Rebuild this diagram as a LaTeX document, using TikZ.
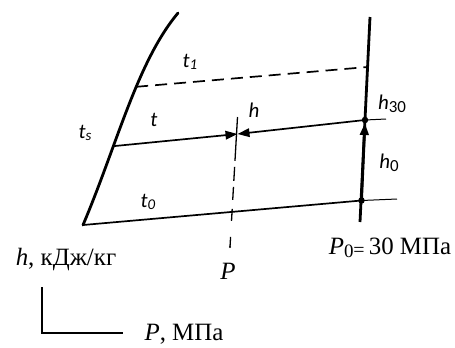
\documentclass[tikz,border=0pt]{standalone}
\usepackage{fontspec}
\setmainfont{Liberation Serif}
\newfontfamily\lblfont{Carlito}
\usetikzlibrary{arrows.meta}
\begin{document}
\begin{tikzpicture}[x=1bp,y=-1bp,
 thickline/.style={line width=2.8bp},
 midline/.style={line width=1.7bp},
 thinline/.style={line width=1bp},
 lbl/.style={font=\lblfont\itshape\fontsize{21}{21}\selectfont, inner sep=0},
 txt/.style={font=\fontsize{25}{25}\selectfont, inner sep=0},
 dot/.style={circle, fill, inner sep=0, minimum size=6.5bp},
 tip/.style={-{Triangle[length=12bp,width=8.5bp]}}]
\useasboundingbox (0,0) rectangle (455,347);
% saturation line
\coordinate (s0) at (83,225);
\coordinate (sTop) at (178,13);
\draw[thickline, line cap=round] (s0) .. controls (117,145) and (137,62) .. (sTop)
  coordinate[pos=0.33] (s2) coordinate[pos=0.595] (s1);
% right isobar
\coordinate (rTop) at (370,17);
\coordinate (rBot) at (360,222);
\coordinate (r1) at (367.5,67);
\coordinate (rEnd) at (397,199);
\coordinate (tickEnd) at (386,119);
\draw[thickline] (rTop) -- (rBot);
\node[dot] (h30pt) at (365,120) {};
\node[dot] (h0pt) at (361.5,200.5) {};
% lines
\draw[midline, dash pattern=on 12bp off 7bp] (s1) -- (r1);
\coordinate (m) at (237.5,134);
\draw[midline,tip] (s2) -- (m);
\draw[midline,tip] (h30pt.center) -- (m);
\draw[thinline] (h30pt.center) -- (tickEnd);
\draw[thickline,tip,shorten >=3bp] (h0pt.center) -- (h30pt.center);
\draw[midline] (s0) -- (h0pt.center);
\draw[thinline] (h0pt.center) -- (rEnd);
% P line
\coordinate (pTop) at (237.5,117);
\coordinate (pBot) at (230,247);
\draw[line width=1.3bp, dash pattern=on 44bp off 6bp on 14bp off 6bp on 13bp off 9bp on 12bp off 16bp] (pTop) -- (pBot);
\fill (pBot) circle (1.1bp);
% labels
\node[lbl] (t1) at (190,62) {t\raisebox{-2.5bp}{\fontsize{15}{15}\selectfont 1}};
\node[lbl] (t) at (154,120) {t};
\node[lbl] (ts) at (85,133) {t\raisebox{-2.5bp}{\fontsize{15}{15}\selectfont s}};
\node[lbl] (t0) at (148,202) {t\raisebox{-2.5bp}{\fontsize{15}{15}\selectfont 0}};
\node[lbl] (h) at (254,110) {h};
\node[lbl] (h30) at (392,104) {h\raisebox{-2.5bp}{\fontsize{17}{17}\selectfont\upshape 30}};
\node[lbl] (h0) at (389,163) {h\raisebox{-2.5bp}{\fontsize{17}{17}\selectfont\upshape 0}};
\node[txt] (p0) at (390,248) {\textit{P}\raisebox{-2.5bp}{\fontsize{19}{19}\selectfont 0}\raisebox{-1.5bp}{\fontsize{20}{20}\selectfont =}\,30 МПа};
\node[txt] (p) at (228,271) {\textit{P}};
\node[txt] (hunit) at (66,260) {\textit{h}, кДж/кг};
\node[txt] (punit) at (184,334) {\textit{P}, МПа};
% axes
\coordinate (axTop) at (42,287);
\coordinate (axCorner) at (42,333);
\coordinate (axRight) at (123,333);
\draw[line width=1.1bp] (axTop) -- (axCorner) -- (axRight);
\end{tikzpicture}
\end{document}
